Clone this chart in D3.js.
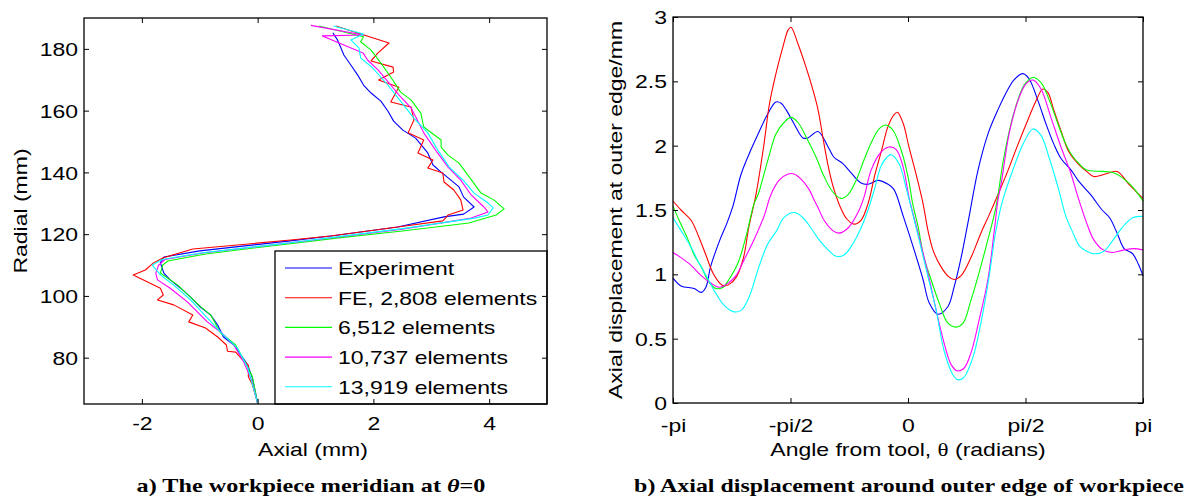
<!DOCTYPE html>
<html>
<head>
<meta charset="utf-8">
<script src="https://d3js.org/d3.v7.min.js"></script>
<style>
    body { margin: 0; background: #fff; }
    svg text { font-family: "Liberation Sans", Arial, Helvetica, sans-serif; fill: #000; }
</style>
</head>
<body>
<svg id="chart" width="1190" height="497"></svg>
<script>
/*
Data - left panel: [axial mm, radial mm] along the meridian, bottom to top
*/
const meridian_exp = [[0, 65.3], [-0.09, 73.4], [-0.17, 77.6], [-0.29, 80.9], [-0.41, 84.1], [-0.59, 86.7], [-0.69, 90.6],
    [-0.81, 93.8], [-0.99, 96.4], [-1.16, 99.6], [-1.33, 102.5], [-1.51, 105.2], [-1.62, 107.4], [-1.68, 110.7], [-1.62, 112.6],
    [-1.0, 114.6], [0.6, 117.9], [1.3, 119.5], [2.42, 122.3], [3.22, 125.6], [3.56, 126.5], [3.74, 128.8], [3.56, 132.0],
    [3.48, 135.3], [3.34, 137.5], [3.17, 140.1], [3.03, 142.4], [2.94, 146.3], [2.73, 151.1], [2.51, 153.7], [2.35, 156.6],
    [2.25, 159.9], [2.13, 163.1], [1.96, 165.7], [1.83, 168.3], [1.73, 171.5], [1.61, 174.8], [1.49, 178.0], [1.44, 180.3],
    [1.38, 182.9], [1.30, 185.2]];
const meridian_fe2808 = [[0, 65.3], [-0.09, 71.2], [-0.16, 73.8], [-0.16, 77.6], [-0.29, 79.9], [-0.38, 81.8], [-0.52, 82.1],
    [-0.54, 84.1], [-0.69, 86.7], [-0.90, 89.6], [-1.19, 91.6], [-1.12, 93.8], [-1.45, 97.1], [-1.73, 98.7], [-1.63, 100.3],
    [-1.68, 102.5], [-1.90, 104.5], [-2.15, 106.8], [-1.94, 108.4], [-1.80, 110.7], [-1.64, 112.3], [-1.12, 115.2],
    [-0.35, 116.5], [0.57, 118.1], [1.26, 119.4], [2.42, 122.3], [3.20, 124.3], [3.29, 126.2], [3.55, 127.8], [3.51, 131.1],
    [3.39, 134.3], [3.22, 136.9], [3.20, 139.8], [2.94, 141.4], [3.03, 144.0], [2.77, 146.3], [2.87, 150.5], [2.60, 152.8],
    [2.70, 157.0], [2.65, 161.2], [2.30, 162.8], [2.44, 167.6], [2.09, 169.9], [2.35, 172.5], [2.34, 174.1], [1.96, 176.1],
    [2.08, 178.7], [2.27, 181.9], [1.35, 187.4]];
const meridian_fe6512 = [[0, 65.3], [-0.09, 73.8], [-0.21, 78.3], [-0.38, 84.1], [-0.5, 86.0], [-0.64, 88.0], [-0.81, 93.8],
    [-1.0, 96.8], [-1.16, 99.6], [-1.38, 103.5], [-1.68, 107.4], [-1.64, 110.0], [-1.55, 111.3], [-0.9, 113.6], [0.6, 117.0],
    [1.4, 118.8], [2.5, 121.0], [3.65, 123.6], [4.12, 126.2], [4.26, 128.2], [4.08, 131.1], [3.86, 133.3], [3.63, 139.2],
    [3.48, 143.0], [3.29, 145.6], [3.17, 148.2], [3.17, 150.5], [2.87, 154.7], [2.82, 159.2], [2.65, 163.5], [2.47, 166.0],
    [2.30, 170.9], [2.13, 175.4], [1.96, 179.6], [1.78, 182.3], [1.83, 183.9], [1.06, 187.4]];
const meridian_fe10737 = [[0, 65.3], [-0.1, 72.5], [-0.24, 78.6], [-0.41, 84.1], [-0.62, 88.0], [-0.87, 91.6], [-1.21, 98.0],
    [-1.51, 102.5], [-1.73, 105.2], [-1.76, 107.4], [-1.71, 110.0], [-1.6, 111.8], [-0.95, 113.9], [0.6, 117.3], [1.4, 119.1],
    [2.5, 121.6], [3.69, 125.2], [3.98, 127.2], [3.91, 128.8], [3.69, 132.7], [3.51, 137.5], [3.29, 141.7], [3.11, 146.3],
    [2.87, 152.8], [2.77, 156.6], [2.65, 160.9], [2.44, 165.1], [2.30, 168.3], [2.08, 173.2], [1.90, 176.4], [1.82, 178.7],
    [1.12, 184.2], [1.83, 184.5], [0.92, 187.6]];
const meridian_fe13919 = [[0, 65.3], [-0.1, 72.0], [-0.17, 76.7], [-0.35, 83.1], [-0.64, 88.3], [-0.87, 92.9], [-1.16, 98.7],
    [-1.45, 103.5], [-1.68, 106.8], [-1.82, 110.0], [-1.65, 111.8], [-0.95, 114.0], [0.6, 117.3], [1.4, 119.2], [2.5, 121.8],
    [3.75, 125.2], [3.98, 126.2], [4.07, 128.5], [3.98, 130.1], [3.74, 133.3], [3.55, 137.5], [3.31, 141.7], [3.11, 147.3],
    [2.94, 152.8], [2.70, 157.6], [2.47, 163.1], [2.25, 168.3], [1.99, 173.8], [1.78, 177.1], [1.75, 180.3], [1.61, 182.9],
    [1.83, 184.8], [1.31, 187.4]];

/*
Data - right panel: [angle / pi, axial displacement mm]
*/
const edge_exp = [[-1.0, 0.97], [-0.966, 0.91], [-0.91, 0.89], [-0.88, 0.86], [-0.86, 0.90], [-0.84, 1.06], [-0.80, 1.27],
    [-0.77, 1.40], [-0.745, 1.53], [-0.71, 1.78], [-0.668, 1.97], [-0.638, 2.09], [-0.596, 2.25], [-0.562, 2.34],
    [-0.54, 2.33], [-0.519, 2.28], [-0.485, 2.17], [-0.447, 2.06], [-0.426, 2.06], [-0.383, 2.11], [-0.34, 1.99],
    [-0.315, 1.91], [-0.277, 1.86], [-0.243, 1.79], [-0.2, 1.71], [-0.17, 1.70], [-0.128, 1.73], [-0.085, 1.70],
    [-0.06, 1.66], [-0.02, 1.45], [0.026, 1.19], [0.064, 0.96], [0.09, 0.78], [0.128, 0.69], [0.17, 0.75], [0.196, 0.90],
    [0.226, 1.13], [0.255, 1.40], [0.298, 1.81], [0.34, 2.09], [0.383, 2.28], [0.426, 2.44], [0.45, 2.51], [0.489, 2.56],
    [0.515, 2.52], [0.553, 2.35], [0.587, 2.17], [0.621, 2.01], [0.651, 1.90], [0.694, 1.81], [0.728, 1.72], [0.777, 1.62],
    [0.826, 1.50], [0.858, 1.44], [0.89, 1.32], [0.92, 1.20], [0.956, 1.16], [0.98, 1.08], [1.0, 0.99]];
const edge_fe2808 = [[-1.0, 1.57], [-0.966, 1.50], [-0.923, 1.42], [-0.89, 1.29], [-0.86, 1.15], [-0.83, 1.01], [-0.80, 0.93],
    [-0.783, 0.91], [-0.762, 0.92], [-0.73, 0.98], [-0.70, 1.13], [-0.677, 1.37], [-0.647, 1.62], [-0.613, 2.01],
    [-0.59, 2.32], [-0.562, 2.56], [-0.532, 2.77], [-0.51, 2.90], [-0.498, 2.92], [-0.468, 2.79], [-0.434, 2.61],
    [-0.404, 2.43], [-0.383, 2.28], [-0.357, 2.01], [-0.336, 1.81], [-0.315, 1.66], [-0.285, 1.51], [-0.26, 1.43],
    [-0.23, 1.39], [-0.2, 1.42], [-0.17, 1.55], [-0.14, 1.78], [-0.11, 1.98], [-0.085, 2.15], [-0.06, 2.24], [-0.045, 2.26],
    [-0.02, 2.17], [0.004, 1.99], [0.034, 1.78], [0.064, 1.55], [0.085, 1.34], [0.106, 1.19], [0.14, 1.06], [0.174, 0.98],
    [0.196, 0.96], [0.226, 0.99], [0.268, 1.13], [0.31, 1.32], [0.345, 1.46], [0.383, 1.62], [0.426, 1.81], [0.468, 2.01],
    [0.51, 2.20], [0.545, 2.35], [0.574, 2.44], [0.596, 2.41], [0.62, 2.28], [0.65, 2.12], [0.685, 1.95], [0.728, 1.85],
    [0.76, 1.80], [0.79, 1.76], [0.84, 1.78], [0.89, 1.80], [0.94, 1.70], [1.0, 1.59]];
const edge_fe6512 = [[-1.0, 1.53], [-0.974, 1.42], [-0.936, 1.27], [-0.91, 1.15], [-0.88, 1.06], [-0.847, 0.94], [-0.817, 0.89],
    [-0.787, 0.90], [-0.762, 0.96], [-0.723, 1.09], [-0.69, 1.29], [-0.655, 1.55], [-0.638, 1.62], [-0.596, 1.89],
    [-0.562, 2.09], [-0.528, 2.18], [-0.498, 2.22], [-0.468, 2.18], [-0.426, 2.04], [-0.391, 1.91], [-0.357, 1.76],
    [-0.32, 1.64], [-0.285, 1.59], [-0.255, 1.62], [-0.221, 1.73], [-0.187, 1.89], [-0.157, 2.02], [-0.123, 2.13],
    [-0.094, 2.16], [-0.064, 2.12], [-0.03, 1.97], [0.0, 1.76], [0.02, 1.55], [0.043, 1.37], [0.068, 1.13], [0.098, 0.96],
    [0.132, 0.78], [0.17, 0.62], [0.204, 0.59], [0.234, 0.62], [0.268, 0.80], [0.302, 1.01], [0.34, 1.27], [0.374, 1.52],
    [0.408, 1.91], [0.45, 2.25], [0.494, 2.47], [0.532, 2.53], [0.566, 2.49], [0.60, 2.36], [0.638, 2.17], [0.672, 2.01],
    [0.70, 1.92], [0.728, 1.86], [0.76, 1.81], [0.826, 1.80], [0.875, 1.79], [0.92, 1.74], [0.96, 1.67], [1.0, 1.57]];
const edge_fe10737 = [[-1.0, 1.17], [-0.966, 1.13], [-0.923, 1.07], [-0.88, 0.99], [-0.838, 0.93], [-0.804, 0.90],
    [-0.766, 0.93], [-0.732, 0.99], [-0.698, 1.11], [-0.655, 1.27], [-0.613, 1.45], [-0.583, 1.62], [-0.549, 1.73],
    [-0.51, 1.78], [-0.485, 1.78], [-0.455, 1.74], [-0.421, 1.66], [-0.40, 1.58], [-0.383, 1.52], [-0.357, 1.42],
    [-0.32, 1.34], [-0.294, 1.32], [-0.255, 1.36], [-0.213, 1.48], [-0.187, 1.60], [-0.157, 1.81], [-0.115, 1.95],
    [-0.081, 1.99], [-0.05, 1.97], [-0.02, 1.83], [0.004, 1.60], [0.043, 1.32], [0.085, 1.01], [0.12, 0.72], [0.153, 0.47],
    [0.183, 0.30], [0.208, 0.25], [0.238, 0.27], [0.268, 0.39], [0.302, 0.64], [0.34, 0.96], [0.366, 1.32], [0.383, 1.58],
    [0.396, 1.70], [0.43, 2.09], [0.468, 2.35], [0.502, 2.48], [0.532, 2.51], [0.566, 2.44], [0.608, 2.22], [0.651, 1.99],
    [0.694, 1.78], [0.72, 1.62], [0.76, 1.40], [0.79, 1.27], [0.83, 1.19], [0.87, 1.17], [0.92, 1.19], [0.96, 1.20], [1.0, 1.19]];
const edge_fe13919 = [[-1.0, 1.44], [-0.966, 1.34], [-0.923, 1.21], [-0.89, 1.09], [-0.85, 0.96], [-0.817, 0.85],
    [-0.783, 0.76], [-0.745, 0.71], [-0.71, 0.72], [-0.677, 0.82], [-0.634, 1.06], [-0.596, 1.24], [-0.562, 1.33],
    [-0.528, 1.44], [-0.485, 1.48], [-0.447, 1.44], [-0.413, 1.36], [-0.379, 1.27], [-0.34, 1.19], [-0.306, 1.14],
    [-0.272, 1.15], [-0.234, 1.24], [-0.2, 1.36], [-0.17, 1.50], [-0.14, 1.68], [-0.115, 1.84], [-0.09, 1.91], [-0.072, 1.93],
    [-0.038, 1.86], [-0.009, 1.68], [0.013, 1.52], [0.047, 1.27], [0.085, 0.98], [0.12, 0.72], [0.153, 0.41], [0.191, 0.22],
    [0.213, 0.18], [0.238, 0.20], [0.277, 0.36], [0.31, 0.62], [0.345, 0.98], [0.374, 1.34], [0.404, 1.58], [0.45, 1.83],
    [0.489, 2.01], [0.532, 2.13], [0.566, 2.08], [0.60, 1.91], [0.638, 1.68], [0.672, 1.45], [0.70, 1.33], [0.73, 1.22],
    [0.76, 1.18], [0.79, 1.16], [0.834, 1.18], [0.87, 1.26], [0.91, 1.36], [0.956, 1.44], [1.0, 1.45]];

const series_names = ["Experiment", "FE, 2,808 elements", "6,512 elements", "10,737 elements", "13,919 elements"];
const meridian_series = [meridian_exp, meridian_fe2808, meridian_fe6512, meridian_fe10737, meridian_fe13919];
const edge_series = [edge_exp, edge_fe2808, edge_fe6512, edge_fe10737, edge_fe13919];

const left_x_ticks = [-2, 0, 2, 4];
const left_y_ticks = [80, 100, 120, 140, 160, 180];
const right_x_ticks = [-1, -0.5, 0, 0.5, 1];
const right_x_labels = ["-pi", "-pi/2", "0", "pi/2", "pi"];
const right_y_ticks = [0, 0.5, 1, 1.5, 2, 2.5, 3];

/*
Styles
*/
const colours = ["#0000ff", "#ff0000", "#00ff00", "#ff00ff", "#00ffff"];
const font_size = 19;
const stretch = 1.21;   // the original figure text is stretched horizontally
const tick_len = 5;

const svg = d3.select("#chart");
svg.append("rect").attr("width", 1190).attr("height", 497).attr("fill", "#fff");

/*
Scales
*/
const x_left = d3.scaleLinear().domain([-3, 5]).range([84, 547]);
const y_left = d3.scaleLinear().domain([65, 190]).range([404, 18]);
const x_right = d3.scaleLinear().domain([-1, 1]).range([673, 1143]);
const y_right = d3.scaleLinear().domain([0, 3]).range([403, 17]);

function draw_box(x, y, x_ticks, x_fmt, y_ticks, y_fmt, label_drop) {
    const [x0, x1] = x.range();
    const [y0, y1] = y.range();

    var g = svg.append("g").attr("transform", `translate(0,${y0})`)
        .call(d3.axisBottom(x).tickValues(x_ticks).tickFormat(x_fmt).tickSizeInner(-tick_len).tickSizeOuter(0));
    g.selectAll("text").attr("y", label_drop).attr("dy", null)
        .attr("transform", `scale(${stretch},1)`);
    style_axis(g);

    g = svg.append("g").attr("transform", `translate(0,${y1})`)
        .call(d3.axisTop(x).tickValues(x_ticks).tickFormat("").tickSizeInner(-tick_len).tickSizeOuter(0));
    style_axis(g);

    g = svg.append("g").attr("transform", `translate(${x0},0)`)
        .call(d3.axisLeft(y).tickValues(y_ticks).tickFormat(y_fmt).tickSizeInner(-tick_len).tickSizeOuter(0));
    g.selectAll("text").attr("x", -6 / stretch).attr("dy", "0.35em")
        .attr("transform", `scale(${stretch},1)`);
    style_axis(g);

    g = svg.append("g").attr("transform", `translate(${x1},0)`)
        .call(d3.axisRight(y).tickValues(y_ticks).tickFormat("").tickSizeInner(-tick_len).tickSizeOuter(0));
    style_axis(g);

    svg.append("rect")
        .attr("x", x0).attr("y", y1)
        .attr("width", x1 - x0).attr("height", y0 - y1)
        .attr("fill", "none").attr("stroke", "#000").attr("stroke-width", 1.3);
}

function style_axis(g) {
    g.select(".domain").remove();
    g.attr("font-size", font_size).attr("font-family", null);
    g.selectAll(".tick line").attr("stroke", "#000").attr("stroke-width", 1);
}

function add_label(text, x, y, rotate) {
    return svg.append("text")
        .attr("text-anchor", "middle")
        .attr("font-size", font_size)
        .attr("transform", `translate(${x},${y})` + (rotate ? " rotate(-90)" : "") + ` scale(${stretch},1)`)
        .text(text);
}

/*
Left panel - workpiece meridian
*/
const meridian_line = d3.line().x(d => x_left(d[0])).y(d => y_left(d[1]));

svg.append("g").selectAll("path").data(meridian_series).enter()
    .append("path")
    .attr("d", meridian_line)
    .attr("fill", "none")
    .attr("stroke", (d, i) => colours[i])
    .attr("stroke-width", 1.1)
    .attr("stroke-linejoin", "round");

// legend
const legend = svg.append("g");
legend.append("rect")
    .attr("x", 275).attr("y", 251).attr("width", 547 - 275).attr("height", 404 - 251)
    .attr("fill", "#fff").attr("stroke", "#000").attr("stroke-width", 1.3);
const item = legend.selectAll("g.item").data(series_names).enter()
    .append("g").classed("item", true)
    .attr("transform", (d, i) => `translate(0,${268 + i * 29.7})`);
item.append("line")
    .attr("x1", 285).attr("x2", 332)
    .attr("stroke", (d, i) => colours[i]).attr("stroke-width", 1.1);
item.append("text")
    .attr("font-size", font_size)
    .attr("transform", `translate(338,7) scale(${stretch},1)`)
    .text(d => d);

draw_box(x_left, y_left, left_x_ticks, d => String(d), left_y_ticks, d => String(d), 26);

add_label("Axial (mm)", 313, 456, false);
add_label("Radial (mm)", 27, 211, true);

/*
Right panel - axial displacement around the outer edge
*/
const edge_line = d3.line()
    .x(d => x_right(d[0])).y(d => y_right(d[1]))
    .curve(d3.curveCatmullRom.alpha(0.5));

svg.append("g").selectAll("path").data(edge_series).enter()
    .append("path")
    .attr("d", edge_line)
    .attr("fill", "none")
    .attr("stroke", (d, i) => colours[i])
    .attr("stroke-width", 1.1);

draw_box(x_right, y_right, right_x_ticks, (d, i) => right_x_labels[i], right_y_ticks, d => String(d), 29);

add_label("Axial displacement at outer edge/mm", 622, 210, true);
const angle_label = add_label("Angle from tool, ", 908, 456, false);
angle_label.text(null);
angle_label.append("tspan").text("Angle from tool, ");
angle_label.append("tspan").attr("font-family", "'Liberation Serif', serif").text("θ");
angle_label.append("tspan").text(" (radians)");

/*
Captions - bold serif, fitted to the width they take in the figure
*/
function add_caption(parts, cx, width) {
    var t = svg.append("text")
        .attr("text-anchor", "middle")
        .attr("font-size", 19)
        .attr("font-weight", "bold")
        .style("font-family", "'Liberation Serif', 'Times New Roman', serif");
    parts.forEach(p => {
        t.append("tspan").attr("font-style", p.italic ? "italic" : null).text(p.text);
    });
    var w = t.node().getComputedTextLength();
    t.attr("transform", `translate(${cx},492) scale(${width / w},1)`);
}

add_caption([{ text: "a) The workpiece meridian at " }, { text: "θ", italic: true }, { text: "=0" }], 311, 349);
add_caption([{ text: "b) Axial displacement around outer edge of workpiece" }], 909, 550);

</script>
</body>
</html>
